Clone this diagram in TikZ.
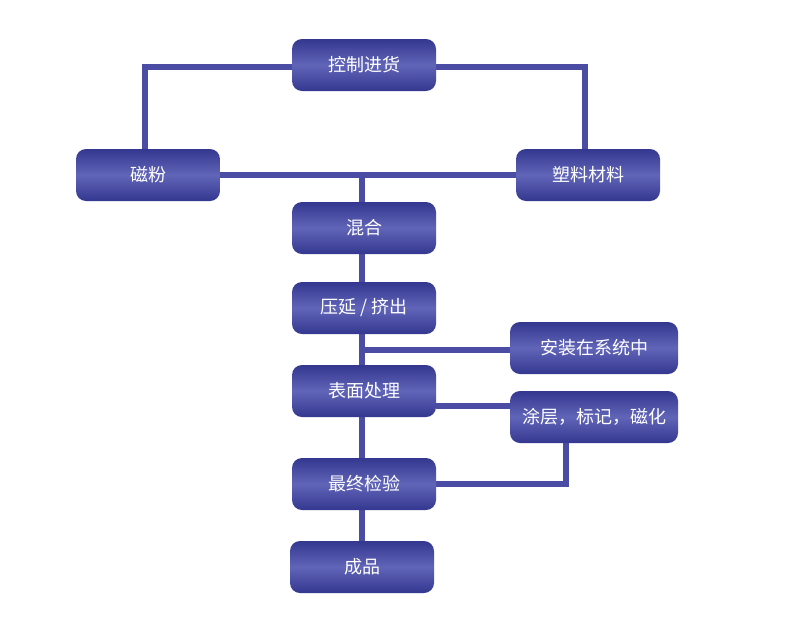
\documentclass[tikz,border=0pt]{standalone}
\usepackage{fontspec}
\setmainfont{Noto Sans CJK SC}
\usetikzlibrary{backgrounds}
\definecolor{boxdark}{HTML}{34378F}
\definecolor{boxlight}{HTML}{6165B8}
\definecolor{linecol}{HTML}{4A4DA3}
\begin{document}
\begin{tikzpicture}[x=1pt,y=-1pt,
  stepbox/.style={rounded corners=10pt, minimum width=144pt, minimum height=52pt,
    inner sep=0pt, top color=boxdark, bottom color=boxdark, middle color=boxlight,
    text=white, font=\fontsize{18pt}{21pt}\selectfont},
  widebox/.style={stepbox, minimum width=168pt},
  conn/.style={draw=linecol, line width=6.5pt}]
\useasboundingbox (0,0) rectangle (800,635);
\coordinate (colx) at (362,0);
\node[stepbox] (ctrl) at (364,65) {控制进货};
\node[stepbox] (mag) at (148,175) {磁粉};
\node[stepbox] (plast) at (588,175) {塑料材料};
\node[stepbox] (mix) at (364,228) {混合};
\node[stepbox] (ext) at (364,308) {压延 / 挤出};
\node[widebox] (inst) at (594,348) {安装在系统中};
\node[stepbox] (surf) at (364,391) {表面处理};
\node[widebox] (coat) at (594,417) {涂层，标记，磁化};
\node[stepbox] (final) at (364,484) {最终检验};
\node[stepbox] (prod) at (362,567) {成品};
\coordinate (instin) at ([yshift=-2pt]inst.west);
\coordinate (coatin) at ([yshift=11pt]coat.west);
\begin{scope}[on background layer]
\draw[conn] ([yshift=-2pt]ctrl.west) -| ([xshift=-3pt]mag.north);
\draw[conn] ([yshift=-2pt]ctrl.east) -| ([xshift=-3pt]plast.north);
\draw[conn] (mag.east) -- (plast.west);
\draw[conn] (colx |- mag.east) -- (colx |- mix.north);
\draw[conn] (colx |- mix.south) -- (colx |- ext.north);
\draw[conn] (colx |- ext.south) -- (colx |- surf.north);
\draw[conn] (instin) -- (colx |- instin);
\draw[conn] (coatin) -- (surf.east |- coatin);
\draw[conn] ([xshift=-28pt]coat.south) |- (final.east);
\draw[conn] (colx |- surf.south) -- (colx |- final.north);
\draw[conn] (colx |- final.south) -- (colx |- prod.north);
\end{scope}
\end{tikzpicture}
\end{document}
